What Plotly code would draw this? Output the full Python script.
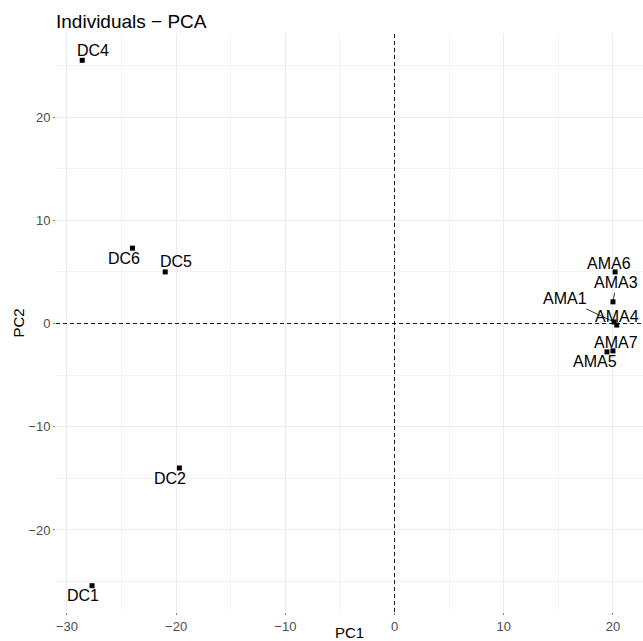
import plotly.graph_objects as go

names = ["DC1", "DC2", "DC4", "DC5", "DC6",
         "AMA1", "AMA3", "AMA4", "AMA5", "AMA6", "AMA7"]
pc1 = [-27.7, -19.7, -28.6, -21.0, -24.0,
       20.1, 20.0, 20.35, 19.45, 20.2, 20.0]
pc2 = [-25.4, -14.0, 25.5, 5.0, 7.3,
       0.15, 2.1, -0.15, -2.75, 5.0, -2.65]

# label offsets in pixels (dx right, dy down) and whether a repel segment is drawn
label_dx = [-9, -9, 10.5, 11, -8, -49, 3.5, 0, -11.5, -6.5, 3.5]
label_dy = [10, 10, -10, -10, 10, -23, -19, -9, 9.5, -8.5, -8]
segment = [False, False, False, False, False, True, True, False, False, False, False]

FONT = "Liberation Sans, Arial, sans-serif"

fig = go.Figure()
fig.add_trace(go.Scatter(
    x=pc1, y=pc2, mode="markers",
    marker=dict(symbol="square", size=5, color="black"),
    hoverinfo="text", text=names, showlegend=False,
))

annotations = []
for n, x, y, dx, dy, seg in zip(names, pc1, pc2, label_dx, label_dy, segment):
    if seg:
        annotations.append(dict(
            x=x, y=y, text=n, showarrow=True, ax=dx, ay=dy,
            arrowhead=0, arrowwidth=0.8, arrowcolor="black", standoff=1,
            font=dict(family=FONT, size=16, color="black"),
        ))
    else:
        annotations.append(dict(
            x=x, y=y, text=n, showarrow=False, xshift=dx, yshift=-dy,
            font=dict(family=FONT, size=16, color="black"),
        ))

fig.update_layout(
    width=643, height=641,
    margin=dict(l=56, r=0, t=34, b=29, autoexpand=False),
    paper_bgcolor="white", plot_bgcolor="white",
    font=dict(family=FONT),
    title=dict(text="Individuals \u2212 PCA", x=0, xanchor="left",
               xref="paper", y=1 - 21 / 641, yanchor="middle", yref="container",
               font=dict(family=FONT, size=19, color="black")),
    annotations=annotations,
    shapes=[
        dict(type="line", xref="x", yref="paper", x0=0, x1=0, y0=0, y1=1,
             line=dict(color="black", width=0.9, dash="4px,3px")),
        dict(type="line", xref="paper", yref="y", x0=0, x1=1, y0=0, y1=0,
             line=dict(color="black", width=0.9, dash="4px,3px")),
    ],
)

fig.update_xaxes(
    range=[-31.0, 22.75], tick0=0, dtick=10, zeroline=False, automargin=False,
    showgrid=True, gridcolor="#EBEBEB", gridwidth=1,
    minor=dict(dtick=5, tick0=0, showgrid=True, gridcolor="#F2F2F2", gridwidth=0.6),
    ticks="outside", ticklen=2, tickcolor="#7F7F7F", tickwidth=1,
    tickfont=dict(family=FONT, size=13, color="#4D4D4D"),
    title=dict(text="PC1", font=dict(family=FONT, size=15, color="black"), standoff=0),
    showline=False,
)
fig.update_yaxes(
    range=[-27.95, 28.05], tick0=0, dtick=10, zeroline=False, automargin=False,
    showgrid=True, gridcolor="#EBEBEB", gridwidth=1,
    minor=dict(dtick=5, tick0=0, showgrid=True, gridcolor="#F2F2F2", gridwidth=0.6),
    ticks="outside", ticklen=2, tickcolor="#7F7F7F", tickwidth=1,
    tickfont=dict(family=FONT, size=13, color="#4D4D4D"),
    title=dict(text="PC2", font=dict(family=FONT, size=15, color="black"), standoff=0),
    showline=False,
)

fig.write_html("out.html", config={"displayModeBar": False},
               post_script="document.body.style.margin='0';document.body.style.padding='0';")
